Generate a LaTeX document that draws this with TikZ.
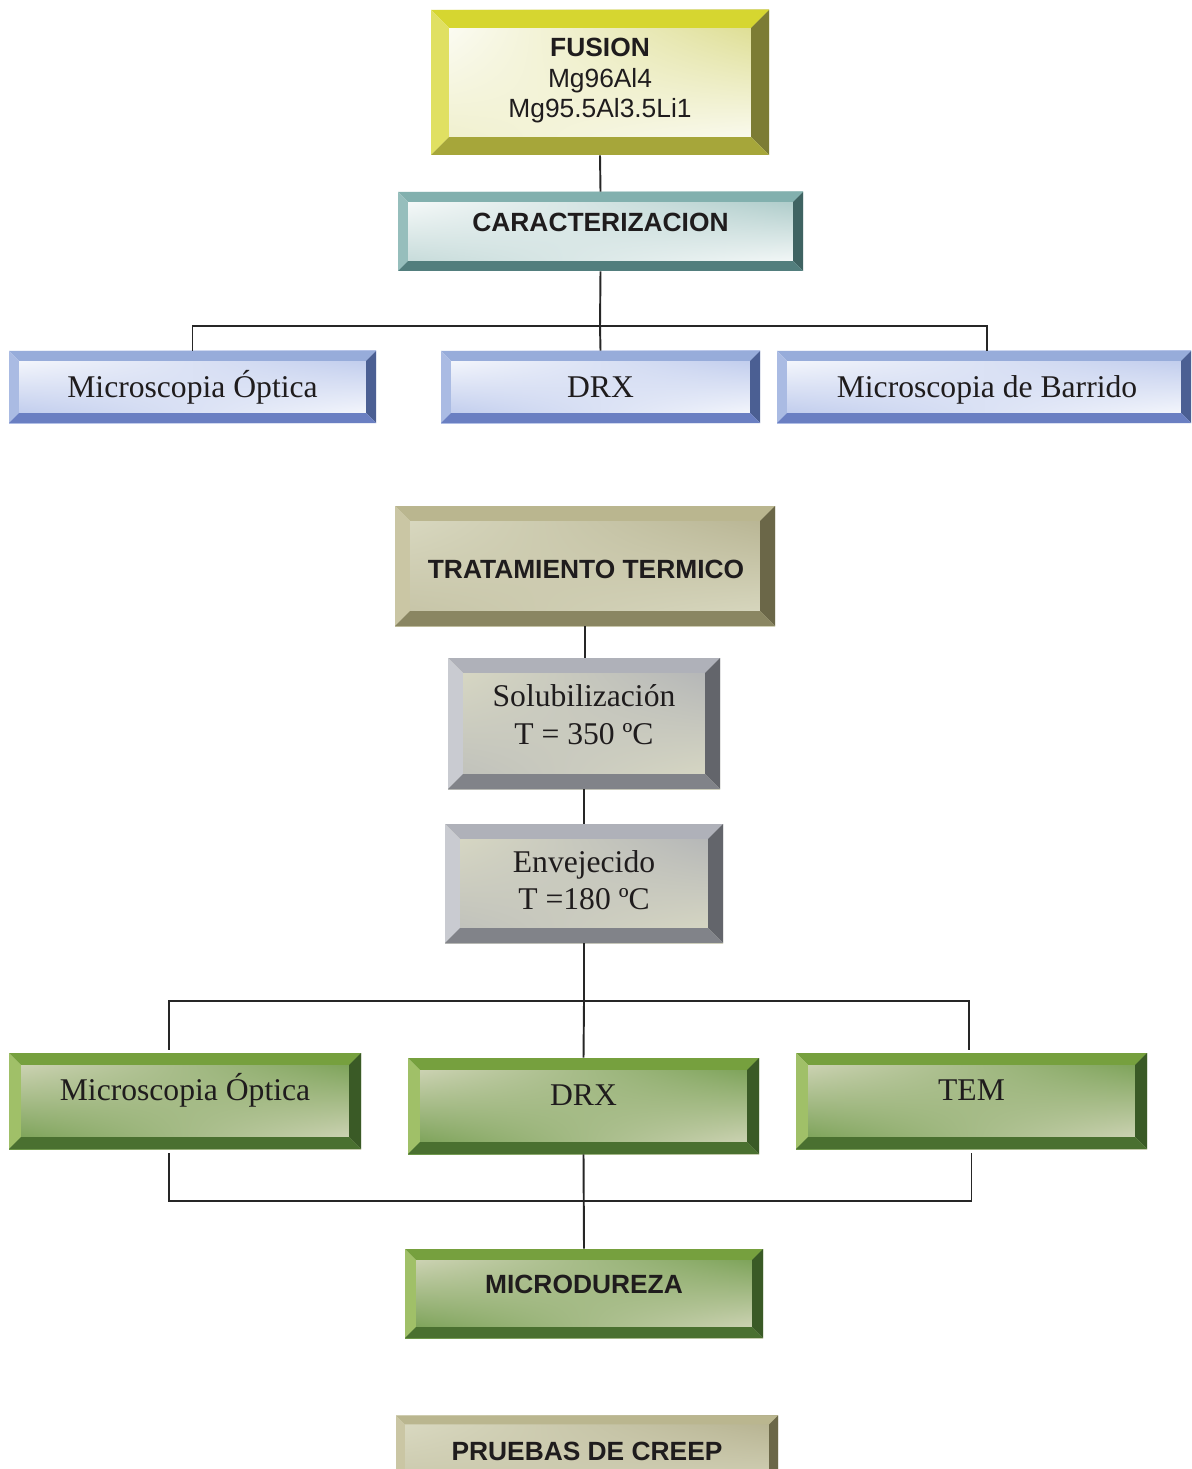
\documentclass[tikz,border=0pt]{standalone}
\usepackage{fontspec}
\setmainfont{Liberation Serif}
\setsansfont{Liberation Sans}
\usepackage{xcolor}
\usetikzlibrary{calc, positioning, shadings}

\definecolor{inktext}{HTML}{1F1C1D}
\definecolor{inkline}{HTML}{262626}
% yellow frame
\definecolor{yelTop}{HTML}{D6D630}
\definecolor{yelLeft}{HTML}{E0E062}
\definecolor{yelRight}{HTML}{7C7C34}
\definecolor{yelBot}{HTML}{A6A63A}
\definecolor{yelIn}{HTML}{D8D880}
% teal frame
\definecolor{tealTop}{HTML}{82B0AE}
\definecolor{tealLeft}{HTML}{96BEBC}
\definecolor{tealRight}{HTML}{3F6362}
\definecolor{tealBot}{HTML}{527E7D}
\definecolor{tealIn}{HTML}{A2C4C2}
% blue frame
\definecolor{bluTop}{HTML}{97ACDA}
\definecolor{bluLeft}{HTML}{AABBE3}
\definecolor{bluRight}{HTML}{4B5F93}
\definecolor{bluBot}{HTML}{6A7FC2}
\definecolor{bluIn}{HTML}{B6C4EA}
% olive frame
\definecolor{oliTop}{HTML}{BAB68F}
\definecolor{oliLeft}{HTML}{CAC6A4}
\definecolor{oliRight}{HTML}{6B6748}
\definecolor{oliBot}{HTML}{8A8662}
\definecolor{oliIn}{HTML}{B3AF8C}
\definecolor{beige}{HTML}{DCDCC5}
% grey frame
\definecolor{gryTop}{HTML}{AFB1B9}
\definecolor{gryLeft}{HTML}{C9CBD1}
\definecolor{gryRight}{HTML}{63656B}
\definecolor{gryBot}{HTML}{818389}
\definecolor{gryIn}{HTML}{AEB0B5}
% green frame
\definecolor{grnTop}{HTML}{76A03E}
\definecolor{grnLeft}{HTML}{A0C068}
\definecolor{grnRight}{HTML}{3A5A26}
\definecolor{grnBot}{HTML}{4A7030}
\definecolor{grnIn}{HTML}{6E9A48}

\tikzset{
  boxsize/.style 2 args={rectangle, inner sep=0pt,
    minimum width=#1*0.02cm, minimum height=#2*0.02cm},
  bevel/.style n args={5}{% width (px), top, left, right, bottom
    path picture={
      \pgfmathsetlengthmacro\bw{#1*0.5669pt}
      \path (path picture bounding box.north west) coordinate (pNW)
            (path picture bounding box.north east) coordinate (pNE)
            (path picture bounding box.south east) coordinate (pSE)
            (path picture bounding box.south west) coordinate (pSW);
      \fill[#2] (pNW) -- (pNE) -- ([shift={(-\bw,-\bw)}]pNE) -- ([shift={(\bw,-\bw)}]pNW) -- cycle;
      \fill[#3] (pNW) -- ([shift={(\bw,-\bw)}]pNW) -- ([shift={(\bw,\bw)}]pSW) -- (pSW) -- cycle;
      \fill[#4] (pNE) -- (pSE) -- ([shift={(-\bw,\bw)}]pSE) -- ([shift={(-\bw,-\bw)}]pNE) -- cycle;
      \fill[#5] (pSW) -- ([shift={(\bw,\bw)}]pSW) -- ([shift={(-\bw,\bw)}]pSE) -- (pSE) -- cycle;
    }},
  yellowbox/.style={shade, upper left=white, upper right=yelIn, lower left=yelIn!45, lower right=white,
    bevel={18}{yelTop}{yelLeft}{yelRight}{yelBot}},
  tealbox/.style={shade, upper left=white, upper right=tealIn, lower left=tealIn!70, lower right=white,
    bevel={10}{tealTop}{tealLeft}{tealRight}{tealBot}},
  bluebox/.style={shade, upper left=white, upper right=bluIn, lower left=bluIn, lower right=white,
    bevel={10}{bluTop}{bluLeft}{bluRight}{bluBot}},
  olivebox/.style n args={1}{shade, upper left=beige, upper right=oliIn, lower left=oliIn!60!beige, lower right=beige,
    bevel={#1}{oliTop}{oliLeft}{oliRight}{oliBot}},
  greybox/.style={shade, upper left=beige, upper right=gryIn, lower left=gryIn!70!beige, lower right=beige,
    bevel={15}{gryTop}{gryLeft}{gryRight}{gryBot}},
  greenbox/.style n args={1}{shade, upper left=beige, upper right=grnIn, lower left=grnIn, lower right=beige,
    bevel={#1}{grnTop}{grnLeft}{grnRight}{grnBot}},
  serif/.style={font=\fontsize{18}{21}\selectfont, text=inktext, align=center, inner sep=0pt},
  caps/.style={font=\sffamily\bfseries\fontsize{15}{17.3}\selectfont, text=inktext, align=center, inner sep=0pt},
  link/.style={draw=inkline, line width=1.1pt},
}

\begin{document}
\begin{tikzpicture}[x=0.02cm, y=-0.02cm]
\useasboundingbox (0,0) rectangle (1192,1469);
\clip (0,0) rectangle (1192,1469);

% Boxes
\node[yellowbox, boxsize={338}{145}] (fusion) at (600,82.5) {};
\node[tealbox, boxsize={405}{79}] (caract) at (600.5,231.5) {};
\node[bluebox, boxsize={367}{72}] (opt1) at (192.5,387) {};
\node[bluebox, boxsize={319}{72}] (drx1) at (600.5,387) {};
\node[bluebox, boxsize={414}{72}] (sem) at (984,387) {};

\node[olivebox={15}, boxsize={380}{120}] (trat) at (585,566) {};
\node[greybox, boxsize={272}{131}] (solub) at (584,723.5) {};
\node[greybox, boxsize={278}{119}] (enve) at (584,883.5) {};

\node[greenbox={12}, boxsize={352}{96}] (opt2) at (185,1101) {};
\node[greenbox={12}, boxsize={351}{96}] (drx2) at (583.5,1106) {};
\node[greenbox={12}, boxsize={351}{96}] (tem) at (971.5,1101) {};
\node[greenbox={11}, boxsize={358}{89}] (micro) at (584,1293.5) {};
\node[olivebox={9}, boxsize={382}{89}] (creep) at (587,1460) {};

% Texts
\node[caps, font=\sffamily\fontsize{15}{17.3}\selectfont] (fusiontxt) at (600,80.8)
  {{\bfseries FUSION}\\Mg96Al4\\Mg95.5Al3.5Li1};
\node[caps, anchor=base] (caracttxt) at (600.5,231.5) {CARACTERIZACION};
\node[serif, anchor=base] (opt1txt) at (192.5,398) {Microscopia Óptica};
\node[serif, anchor=base] (drx1txt) at (600.5,398) {DRX};
\node[serif, anchor=base] (semtxt) at (987,398) {Microscopia de Barrido};
\node[caps, anchor=base] (trattxt) at (586,578) {TRATAMIENTO TERMICO};
\node[serif, font=\fontsize{18}{21.5}\selectfont] (solubtxt) at (584,715)
  {Solubilización\\T = 350 ºC};
\node[serif] (envetxt) at (584,880.6) {Envejecido\\T =180 ºC};
\node[serif, anchor=base] (opt2txt) at (185,1100) {Microscopia Óptica};
\node[serif, anchor=base] (drx2txt) at (583.5,1105) {DRX};
\node[serif, anchor=base] (temtxt) at (971.5,1100) {TEM};
\node[caps, anchor=base] (microtxt) at (584,1293) {MICRODUREZA};
\node[caps, anchor=base] (creeptxt) at (587,1460) {PRUEBAS DE CREEP};

% Connectors, upper tree
\coordinate (hub1) at (600,326);
\draw[link] (fusion.south) -- (caract.north);
\draw[link] (caract.south) -- (hub1);
\draw[link] (opt1.north) |- (hub1) -| ($(sem.north)+(3,0)$);
\draw[link] (hub1) -- (drx1.north);

% Connectors, heat treatment
\draw[link] (trat.south) -- (trat.south |- solub.north);
\draw[link] (solub.south) -- (enve.north);
\coordinate (hub2) at (584,1001);
\coordinate (hub3) at (584,1201);
\draw[link] (enve.south) -- (hub2);
\draw[link] ($(opt2.north)+(-16,-3)$) |- (hub2) -| ($(tem.north)+(-2.5,-3)$);
\draw[link] (hub2) -- (drx2.north);
\draw[link] ($(opt2.south)+(-16,4)$) |- (hub3) -| ($(tem.south)+(0,4)$);
\draw[link] (drx2.south) -- (micro.north);

\end{tikzpicture}
\end{document}
